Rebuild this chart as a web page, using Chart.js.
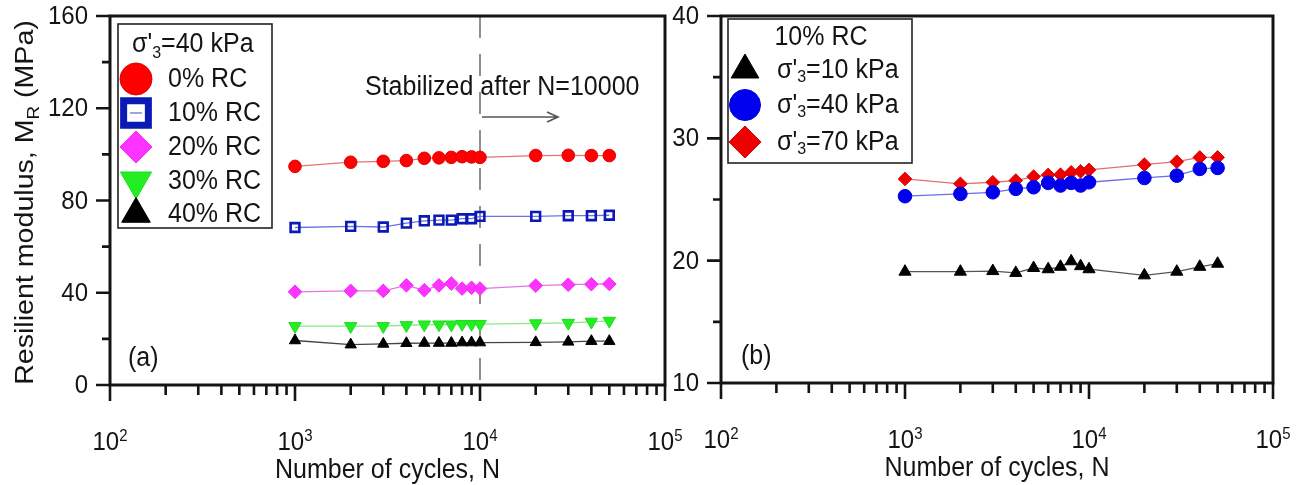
<!DOCTYPE html>
<html>
<head>
<meta charset="utf-8">
<title>Resilient modulus vs number of cycles</title>
<script src="https://cdn.jsdelivr.net/npm/chart.js@4.4.1/dist/chart.umd.min.js"></script>
<style>
  html, body { margin: 0; padding: 0; background: #fff; }
  #wrap { position: relative; width: 1306px; height: 485px; overflow: hidden; }
  .panel { position: absolute; top: 0; }
  #chartA { left: 0; }
  #chartB { left: 650px; }
</style>
</head>
<body>
<div id="wrap">
  <canvas id="chartA" class="panel" width="690" height="485"></canvas>
  <canvas id="chartB" class="panel" width="656" height="485"></canvas>
</div>
<script>
// loading cycles, shared by both panels
const cycles = [1000, 2000, 3000, 4000, 5000, 6000, 7000, 8000, 9000, 10000, 20000, 30000, 40000, 50000];

// (a) sigma'3 = 40 kPa, MR (MPa) for each RC content
const rc0  = [94.8, 96.6, 97.0, 97.3, 98.3, 98.5, 98.7, 99.0, 98.9, 98.7, 99.5, 99.6, 99.5, 99.5];
const rc10 = [68.3, 68.8, 68.5, 70.2, 71.2, 71.5, 71.5, 72.1, 72.1, 73.1, 73.1, 73.4, 73.4, 73.6];
const rc20 = [40.4, 40.8, 40.8, 43.2, 41.1, 43.2, 44.0, 41.8, 42.2, 41.8, 43.1, 43.5, 43.7, 43.8];
const rc30 = [25.5, 25.5, 25.5, 25.9, 26.2, 26.2, 26.2, 26.4, 26.4, 26.4, 26.7, 26.9, 27.4, 27.8];
const rc40 = [19.3, 17.5, 17.8, 18.1, 18.2, 18.2, 18.2, 18.4, 18.4, 18.4, 18.5, 18.7, 19.0, 19.0];

// (b) 10% RC, MR (MPa) for each confining stress
const kpa10 = [19.1, 19.1, 19.15, 19.0, 19.4, 19.3, 19.5, 19.95, 19.55, 19.3, 18.8, 19.1, 19.5, 19.75];
const kpa40 = [25.27, 25.46, 25.59, 25.87, 26.0, 26.36, 26.14, 26.36, 26.14, 26.41, 26.76, 26.95, 27.5, 27.58];
const kpa70 = [26.68, 26.28, 26.41, 26.55, 26.87, 27.01, 27.03, 27.22, 27.3, 27.42, 27.85, 28.09, 28.44, 28.44];

// axis ticks
const xTickExps = [2, 3, 4, 5];
const yMajorA = [0, 40, 80, 120, 160];
const yMinorA = [20, 60, 100, 140];
const yMajorB = [10, 20, 30, 40];
const yMinorB = [15, 25, 35];

const FONT = '"Liberation Sans", Arial, sans-serif';
const INK = '#141414';
const TALL = 1.08; // glyphs are drawn a little taller than wide

function points(values) {
  return cycles.map((n, i) => ({ x: n, y: values[i] }));
}

function series(label, values, o) {
  return {
    label: label,
    data: points(values),
    borderColor: o.line,
    borderWidth: 1.3,
    pointStyle: o.style,
    pointRotation: o.rot || 0,
    pointRadius: o.r,
    pointHoverRadius: o.r,
    pointBackgroundColor: o.fill,
    pointBorderColor: o.edge,
    pointBorderWidth: o.bw || 1,
    legendRadius: o.lr,
    legendBorder: o.lbw || 1
  };
}

// "_x_" is drawn as a subscript, "^x^" as a superscript
function richText(ctx, str, x, y, size, align, stretch) {
  const sy = stretch || TALL;
  const small = Math.round(size * 0.64);
  const parts = [];
  str.replace(/_([^_]*)_|\^([^\^]*)\^|([^_\^]+)/g, (m, sub, sup, txt) => {
    if (sub !== undefined) parts.push({ t: sub, size: small, dy: size * 0.24 });
    else if (sup !== undefined) parts.push({ t: sup, size: small, dy: -size * 0.36 });
    else parts.push({ t: txt, size: size, dy: 0 });
    return m;
  });
  let total = 0;
  parts.forEach(p => {
    ctx.font = p.size + 'px ' + FONT;
    p.w = ctx.measureText(p.t).width;
    total += p.w;
  });
  let cx = align === 'center' ? x - total / 2 : align === 'right' ? x - total : x;
  ctx.textAlign = 'left';
  parts.forEach(p => {
    ctx.save();
    ctx.translate(cx, y + p.dy);
    ctx.scale(1, sy);
    ctx.font = p.size + 'px ' + FONT;
    ctx.fillText(p.t, 0, 0);
    ctx.restore();
    cx += p.w;
  });
}

const panelDecor = {
  id: 'panelDecor',

  beforeDatasetsDraw(chart, args, opts) {
    if (!opts.guide) return;
    const { ctx, chartArea: a, scales: { x } } = chart;
    const gx = x.getPixelForValue(opts.guide.at);
    ctx.save();
    // dashed marker line
    ctx.strokeStyle = '#555';
    ctx.lineWidth = 1.3;
    ctx.setLineDash([22, 16]);
    ctx.beginPath();
    ctx.moveTo(gx, a.top);
    ctx.lineTo(gx, a.bottom);
    ctx.stroke();
    ctx.setLineDash([]);
    // note and arrow
    ctx.fillStyle = INK;
    ctx.textBaseline = 'alphabetic';
    richText(ctx, opts.guide.text, gx - 115, a.top + 79, 25, 'left');
    const ay = a.top + 101;
    const ax = gx + 78;
    ctx.strokeStyle = '#555';
    ctx.lineWidth = 1.6;
    ctx.beginPath();
    ctx.moveTo(gx + 2, ay);
    ctx.lineTo(ax, ay);
    ctx.moveTo(ax - 11, ay - 5);
    ctx.lineTo(ax, ay);
    ctx.lineTo(ax - 11, ay + 5);
    ctx.stroke();
    ctx.restore();
  },

  afterDraw(chart, args, opts) {
    const { ctx, chartArea: a, scales: { x, y } } = chart;
    ctx.save();

    // frame
    ctx.strokeStyle = INK;
    ctx.lineWidth = 3;
    ctx.strokeRect(a.left, a.top, a.right - a.left, a.bottom - a.top);

    // x ticks, majors on decades, minors 2..9
    ctx.lineWidth = 2.6;
    ctx.beginPath();
    xTickExps.forEach((e, i) => {
      const dec = Math.pow(10, e);
      const px = x.getPixelForValue(dec);
      ctx.moveTo(px, a.bottom);
      ctx.lineTo(px, a.bottom + 16);
      if (i < xTickExps.length - 1) {
        for (let m = 2; m <= 9; m++) {
          const mx = x.getPixelForValue(m * dec);
          ctx.moveTo(mx, a.bottom);
          ctx.lineTo(mx, a.bottom + 10);
        }
      }
    });
    // y ticks
    opts.yMajor.forEach(v => {
      const py = y.getPixelForValue(v);
      ctx.moveTo(a.left, py);
      ctx.lineTo(a.left - 14, py);
    });
    opts.yMinor.forEach(v => {
      const py = y.getPixelForValue(v);
      ctx.moveTo(a.left, py);
      ctx.lineTo(a.left - 8, py);
    });
    ctx.stroke();

    // tick labels
    ctx.fillStyle = INK;
    ctx.textBaseline = 'alphabetic';
    xTickExps.forEach(e => {
      const px = x.getPixelForValue(Math.pow(10, e));
      richText(ctx, '10^' + e + '^', px, a.bottom + 65, 24, 'center');
    });
    ctx.textBaseline = 'middle';
    opts.yMajor.forEach(v => {
      richText(ctx, String(v), a.left - 22, y.getPixelForValue(v) + 1, 24, 'right');
    });

    // axis titles
    ctx.textBaseline = 'alphabetic';
    richText(ctx, 'Number of cycles, N', (a.left + a.right) / 2, a.bottom + 93, 25, 'center');
    if (opts.yTitle) {
      ctx.save();
      ctx.translate(33, (a.top + a.bottom) / 2 + 2);
      ctx.rotate(-Math.PI / 2);
      ctx.scale(1.1, 1);
      richText(ctx, opts.yTitle, 0, 0, 26, 'center', 1);
      ctx.restore();
    }

    // panel tag
    richText(ctx, opts.tag, a.left + opts.tagX, a.bottom - 19, 25, 'left');

    // legend box
    const L = opts.legend;
    ctx.strokeStyle = '#222';
    ctx.lineWidth = 1.6;
    ctx.strokeRect(a.left + L.box[0], a.top + L.box[1], L.box[2], L.box[3]);
    richText(ctx, L.title, a.left + L.titleX, a.top + L.titleY, 25, L.titleAlign);
    chart.data.datasets.forEach((ds, i) => {
      const cy = a.top + L.rows[i];
      const cx = a.left + L.markX;
      ctx.strokeStyle = ds.borderColor;
      ctx.lineWidth = 1.3;
      ctx.beginPath();
      ctx.moveTo(cx - 6, cy);
      ctx.lineTo(cx + 6, cy);
      ctx.stroke();
      ctx.fillStyle = ds.pointBackgroundColor;
      ctx.strokeStyle = ds.pointBorderColor;
      ctx.lineWidth = ds.legendBorder;
      Chart.helpers.drawPoint(ctx, {
        pointStyle: ds.pointStyle,
        rotation: ds.pointRotation,
        radius: ds.legendRadius,
        borderWidth: ds.legendBorder
      }, cx, cy);
      ctx.fillStyle = INK;
      ctx.textBaseline = 'middle';
      richText(ctx, ds.label, a.left + L.textX, cy + 1, 25, 'left');
    });
    ctx.restore();
  }
};

function axes(yMin, yMax) {
  const hidden = { ticks: { display: false }, grid: { display: false, drawTicks: false }, border: { display: false } };
  return {
    x: Object.assign({ type: 'logarithmic', min: 100, max: 100000 }, hidden),
    y: Object.assign({ type: 'linear', min: yMin, max: yMax }, hidden)
  };
}

Chart.defaults.font.family = FONT;

new Chart(document.getElementById('chartA'), {
  type: 'line',
  data: {
    datasets: [
      series('0% RC', rc0, { style: 'circle', r: 6.3, fill: '#ff0000', edge: '#e00000', line: '#e87272', lr: 16 }),
      series('10% RC', rc10, { style: 'rect', r: 6.2, fill: 'rgba(255,255,255,0)', edge: '#0b1ab4', bw: 2.6, line: '#6f72e0', lr: 17.5, lbw: 7 }),
      series('20% RC', rc20, { style: 'rectRot', r: 6.8, fill: '#ff33ff', edge: '#f02cf0', line: '#e676e6', lr: 16 }),
      series('30% RC', rc30, { style: 'triangle', rot: 180, r: 7.2, fill: '#22ee22', edge: '#1fdc1f', line: '#84ea84', lr: 18 }),
      series('40% RC', rc40, { style: 'triangle', r: 6.5, fill: '#000000', edge: '#000000', line: '#444444', lr: 16.5 })
    ]
  },
  options: {
    responsive: false,
    animation: false,
    events: [],
    devicePixelRatio: 1,
    layout: { padding: { left: 110, top: 16, right: 25, bottom: 100 } },
    scales: axes(0, 160),
    plugins: {
      legend: { display: false },
      tooltip: { enabled: false },
      panelDecor: {
        yMajor: yMajorA,
        yMinor: yMinorA,
        yTitle: 'Resilient modulus, M_R_ (MPa)',
        tag: '(a)',
        tagX: 18,
        guide: { at: 10000, text: 'Stabilized after N=10000' },
        legend: {
          box: [8, 8, 154, 204],
          title: "σ'_3_=40 kPa", titleX: 22, titleY: 36, titleAlign: 'left',
          markX: 26, textX: 58,
          rows: [63, 97, 131, 165, 198]
        }
      }
    }
  },
  plugins: [panelDecor]
});

new Chart(document.getElementById('chartB'), {
  type: 'line',
  data: {
    datasets: [
      series("σ'_3_=10 kPa", kpa10, { style: 'triangle', r: 7, fill: '#000000', edge: '#000000', line: '#555555', lr: 16 }),
      series("σ'_3_=40 kPa", kpa40, { style: 'circle', r: 6.8, fill: '#0000ee', edge: '#0000dd', line: '#6c6ce8', lr: 15.5 }),
      series("σ'_3_=70 kPa", kpa70, { style: 'rectRot', r: 6.8, fill: '#ee0000', edge: '#dd0000', line: '#e27070', lr: 16 })
    ]
  },
  options: {
    responsive: false,
    animation: false,
    events: [],
    devicePixelRatio: 1,
    layout: { padding: { left: 71, top: 16, right: 33, bottom: 102 } },
    scales: axes(10, 40),
    plugins: {
      legend: { display: false },
      tooltip: { enabled: false },
      panelDecor: {
        yMajor: yMajorB,
        yMinor: yMinorB,
        tag: '(b)',
        tagX: 20,
        legend: {
          box: [7, 3, 184, 144],
          title: '10% RC', titleX: 100, titleY: 29, titleAlign: 'center',
          markX: 24, textX: 56,
          rows: [54, 89, 126]
        }
      }
    }
  },
  plugins: [panelDecor]
});
</script>
</body>
</html>
